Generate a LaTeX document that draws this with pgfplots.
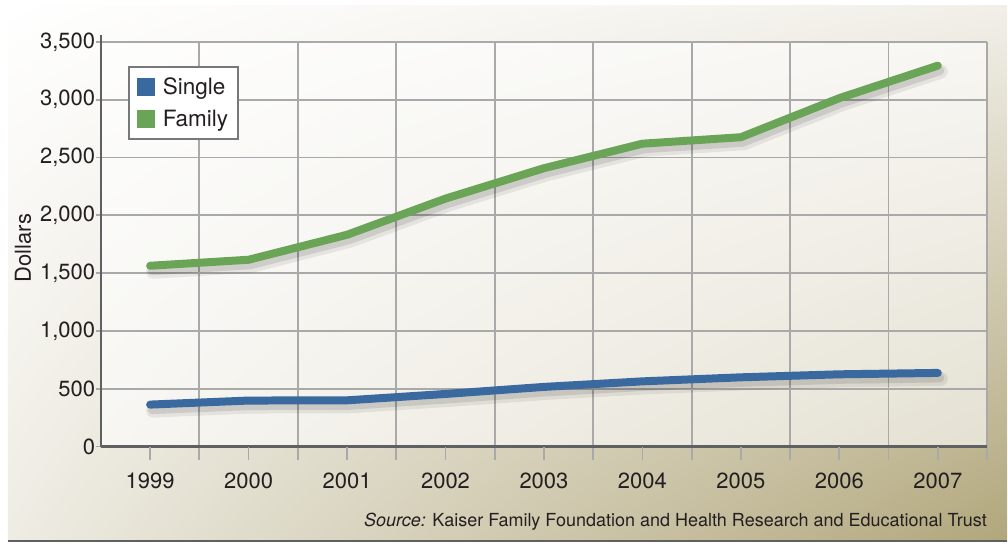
\documentclass[border=0pt]{standalone}
\usepackage{fontspec}
\setmainfont{TeX Gyre Heros}
\usepackage{pgfplots}
\usepackage{pgfplotstable}
\usetikzlibrary{shadings}
\pgfplotsset{compat=1.18}
\definecolor{singleblue}{HTML}{3A69A0}
\definecolor{familygreen}{HTML}{6AA557}
\definecolor{gridgray}{HTML}{A9A9A9}
\definecolor{axisgray}{HTML}{5F6062}
\definecolor{txt}{HTML}{231F20}
\definecolor{bgur}{HTML}{F1EFE8}
\definecolor{bgll}{HTML}{EEECE3}
\definecolor{bglr}{HTML}{B1A67B}
\pgfplotstableread{
idx year single family
0 1999 363 1564
1 2000 398 1616
2 2001 400 1832
3 2002 455 2145
4 2003 516 2408
5 2004 564 2620
6 2005 599 2676
7 2006 625 3014
8 2007 637 3295
}\costs
\begin{document}
\begin{tikzpicture}[x=1pt,y=1pt]
\path (0,0) rectangle (1008,544);
\shade[upper left=white, upper right=bgur, lower left=bgll, lower right=bglr] (8,2) rectangle (1008,538);
\draw[axisgray, line width=2pt] (8,2) -- (1008,2);
\node[anchor=base east, font=\fontsize{18}{21}\selectfont, text=txt, inner sep=0pt] at (988,17) {\textit{Source:} Kaiser Family Foundation and Health Research and Educational Trust};
\begin{axis}[
  at={(101pt,97pt)}, anchor=south west,
  scale only axis, width=887pt, height=405pt,
  xmin=-0.5, xmax=8.5, ymin=0, ymax=3500,
  axis lines=left,
  axis line style={-, axisgray, line width=2.5pt},
  y axis line style={shorten >=-7pt},
  axis background/.style={fill=white, fill opacity=0.6},
  xtick={0.5,1.5,...,8.5},
  xticklabels={,,,,,,,,,},
  extra x ticks={0,1,...,8},
  extra x tick labels={1999,2000,2001,2002,2003,2004,2005,2006,2007},
  extra x tick style={grid=none, /pgfplots/major tick length=0pt, xticklabel style={yshift=-23pt}},
  ytick={0,500,...,3500},
  xmajorgrids, ymajorgrids,
  grid style={gridgray, line width=1.8pt},
  tick align=outside,
  xtick style={/pgfplots/major tick length=13pt, gridgray, line width=1.8pt},
  ytick style={/pgfplots/major tick length=5pt, gridgray, line width=1.8pt},
  ticklabel style={font=\fontsize{22}{26}\selectfont, text=txt},
  yticklabel style={xshift=2pt},
  /pgf/number format/assume math mode=true,
  /pgf/number format/1000 sep={,},
  ylabel={Dollars},
  every axis y label/.style={at={(axis description cs:-0.0879,0.491)}, rotate=90, anchor=center, font=\fontsize{22}{26}\selectfont, text=txt},
  legend style={at={(axis description cs:0.0304,0.9407)}, anchor=north west, draw=axisgray!85, line width=2pt, fill=white, font=\fontsize{22.5}{26}\selectfont, text=txt, /tikz/row sep=10pt, inner xsep=8pt, inner ysep=9pt,
    /tikz/every odd column/.append style={column sep=6pt},
    /tikz/every even column/.append style={column sep=0pt}},
  legend cell align=left,
]
\addplot[forget plot, black, opacity=0.07, line width=14pt, line cap=round, line join=round, yshift=-6pt, xshift=3pt] table[x=idx, y=single] {\costs};
\addplot[forget plot, black, opacity=0.10, line width=9pt, line cap=round, line join=round, yshift=-5pt, xshift=2pt] table[x=idx, y=single] {\costs};
\addplot[forget plot, black, opacity=0.07, line width=14pt, line cap=round, line join=round, yshift=-6pt, xshift=3pt] table[x=idx, y=family] {\costs};
\addplot[forget plot, black, opacity=0.10, line width=9pt, line cap=round, line join=round, yshift=-5pt, xshift=2pt] table[x=idx, y=family] {\costs};
\addplot[singleblue, line width=8pt, line cap=round, line join=round,
  legend image code/.code={\fill[singleblue, draw=none] (0pt,-9pt) rectangle (18pt,9pt);}] table[x=idx, y=single] {\costs};
\addlegendentry{Single}
\addplot[familygreen, line width=8pt, line cap=round, line join=round,
  legend image code/.code={\fill[familygreen, draw=none] (0pt,-9pt) rectangle (18pt,9pt);}] table[x=idx, y=family] {\costs};
\addlegendentry{Family}
\end{axis}
\end{tikzpicture}
\end{document}
